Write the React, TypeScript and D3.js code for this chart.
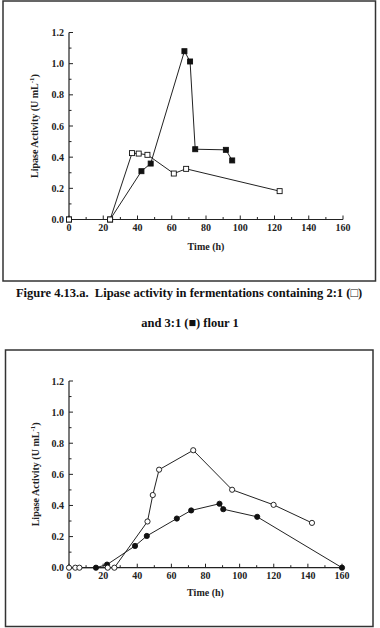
import React, { useEffect, useRef } from 'react';
import * as d3 from 'd3';

// Fermentation time (h) and lipase activity (U/mL) for each run
const flour2to1Time = [0, 24, 36.8, 40.7, 45.8, 61.2, 68.4, 123];
const flour2to1Act = [0, 0, 0.426, 0.423, 0.415, 0.295, 0.325, 0.182];

const flour3to1Time = [0, 24, 42.3, 47.7, 67.4, 70.7, 73.7, 91.6, 95.3];
const flour3to1Act = [0, 0, 0.31, 0.359, 1.08, 1.014, 0.451, 0.447, 0.379];

const openCircleTime = [0, 3.7, 6.1, 22.7, 26.6, 46, 49.1, 52.8, 72.8, 95.6, 119.9, 142.4];
const openCircleAct = [0, 0, 0, 0, 0, 0.297, 0.467, 0.63, 0.755, 0.501, 0.404, 0.288];

const filledCircleTime = [15.8, 22.3, 38.7, 45.6, 63.2, 71.6, 88.2, 90.4, 110.3, 160];
const filledCircleAct = [0, 0.02, 0.14, 0.204, 0.316, 0.368, 0.411, 0.376, 0.327, 0];

const xTicks = [0, 20, 40, 60, 80, 100, 120, 140, 160];
const yTicks = [0, 0.2, 0.4, 0.6, 0.8, 1.0, 1.2];

const FONT = '"Liberation Serif", "Times New Roman", serif';

type Series = { time: number[]; act: number[]; marker: 'square' | 'circle'; filled: boolean };

const toPoints = (s: Series) => s.time.map((t, i) => [t, s.act[i]] as [number, number]);

const drawPanel = (
    svg: d3.Selection<SVGSVGElement, unknown, null, undefined>,
    x0: number, x1: number, yBottom: number, yTop: number,
    series: Series[], yLabelX: number, xLabelY: number,
) => {
    const x = d3.scaleLinear().domain([0, 160]).range([x0, x1]);
    const y = d3.scaleLinear().domain([0, 1.2]).range([yBottom, yTop]);
    const g = svg.append('g');

    // x axis with inward ticks
    g.append('line').attr('x1', x0).attr('x2', x1).attr('y1', yBottom).attr('y2', yBottom)
        .attr('stroke', '#222').attr('stroke-width', 1.2);
    d3.range(0, 161, 10).forEach(v => {
        const major = v % 20 === 0;
        g.append('line').attr('x1', x(v)).attr('x2', x(v))
            .attr('y1', yBottom).attr('y2', yBottom - (major ? 4 : 2.5))
            .attr('stroke', '#222').attr('stroke-width', 1);
    });
    g.selectAll('.xt').data(xTicks).enter().append('text')
        .attr('x', d => x(d)).attr('y', yBottom + 11)
        .attr('text-anchor', 'middle').attr('font-family', FONT).attr('font-weight', 'bold')
        .attr('font-size', 10).attr('fill', '#222').text(d => d);

    // y axis with inward ticks
    g.append('line').attr('x1', x0).attr('x2', x0).attr('y1', yBottom).attr('y2', yTop)
        .attr('stroke', '#222').attr('stroke-width', 1.2);
    d3.range(0, 13).forEach(i => {
        const v = i / 10;
        const major = i % 2 === 0;
        g.append('line').attr('x1', x0).attr('x2', x0 + (major ? 4 : 2.5))
            .attr('y1', y(v)).attr('y2', y(v))
            .attr('stroke', '#222').attr('stroke-width', 1);
    });
    g.selectAll('.yt').data(yTicks).enter().append('text')
        .attr('x', x0 - 5).attr('y', d => y(d) + 3.5)
        .attr('text-anchor', 'end').attr('font-family', FONT).attr('font-weight', 'bold')
        .attr('font-size', 10).attr('fill', '#222').text(d => d.toFixed(1));

    // axis titles
    g.append('text').attr('x', (x0 + x1) / 2).attr('y', xLabelY)
        .attr('text-anchor', 'middle').attr('font-family', FONT).attr('font-weight', 'bold')
        .attr('font-size', 10).attr('fill', '#222').text('Time (h)');
    const yl = g.append('text')
        .attr('transform', `translate(${yLabelX},${(yBottom + yTop) / 2}) rotate(-90)`)
        .attr('text-anchor', 'middle').attr('font-family', FONT).attr('font-weight', 'bold')
        .attr('font-size', 10).attr('fill', '#222');
    yl.append('tspan').text('Lipase Activity (U mL');
    yl.append('tspan').attr('dy', -4).attr('font-size', 7).text('-1');
    yl.append('tspan').attr('dy', 4).text(')');

    const line = d3.line<[number, number]>().x(d => x(d[0])).y(d => y(d[1]));
    series.forEach(s => {
        g.append('path').datum(toPoints(s)).attr('d', line)
            .attr('fill', 'none').attr('stroke', '#222').attr('stroke-width', 1);
    });
    series.forEach(s => {
        const pts = toPoints(s);
        if (s.marker === 'square') {
            g.selectAll(null).data(pts).enter().append('rect')
                .attr('x', d => x(d[0]) - 2.5).attr('y', d => y(d[1]) - 2.5)
                .attr('width', 5).attr('height', 5)
                .attr('fill', s.filled ? '#111' : '#fff').attr('stroke', '#111').attr('stroke-width', 0.9);
        } else {
            g.selectAll(null).data(pts).enter().append('circle')
                .attr('cx', d => x(d[0])).attr('cy', d => y(d[1])).attr('r', 2.6)
                .attr('fill', s.filled ? '#111' : '#fff').attr('stroke', '#111').attr('stroke-width', 0.9);
        }
    });
};

export default function App() {
    const svgRef = useRef<SVGSVGElement | null>(null);

    useEffect(() => {
        const svg = d3.select(svgRef.current as SVGSVGElement);
        svg.selectAll('*').remove();

        svg.append('rect').attr('width', 380).attr('height', 628).attr('fill', '#fff');

        // frames round each figure
        svg.append('rect').attr('x', 3).attr('y', 1).attr('width', 372.5).attr('height', 280)
            .attr('fill', 'none').attr('stroke', '#333').attr('stroke-width', 1.5);
        svg.append('rect').attr('x', 5.5).attr('y', 350).attr('width', 367.5).attr('height', 276.5)
            .attr('fill', 'none').attr('stroke', '#333').attr('stroke-width', 1.5);

        drawPanel(svg, 69, 343, 219.5, 32.5, [
            { time: flour3to1Time, act: flour3to1Act, marker: 'square', filled: true },
            { time: flour2to1Time, act: flour2to1Act, marker: 'square', filled: false },
        ], 38, 250);

        drawPanel(svg, 69, 342, 567.7, 381, [
            { time: filledCircleTime, act: filledCircleAct, marker: 'circle', filled: true },
            { time: openCircleTime, act: openCircleAct, marker: 'circle', filled: false },
        ], 39, 596);

        // caption under the first figure
        svg.append('text').attr('x', 189).attr('y', 297).attr('text-anchor', 'middle')
            .attr('font-family', FONT).attr('font-weight', 'bold').attr('font-size', 12.5)
            .attr('fill', '#111').text('Figure 4.13.a.\u00a0\u00a0Lipase activity in fermentations containing 2:1 (\u25a1)');
        svg.append('text').attr('x', 190).attr('y', 327).attr('text-anchor', 'middle')
            .attr('font-family', FONT).attr('font-weight', 'bold').attr('font-size', 12.5)
            .attr('fill', '#111').text('and 3:1 (\u25a0) flour 1');
    }, []);

    return (
        <svg ref={svgRef} width={380} height={628}
            style={{ position: 'absolute', left: 0, top: 0, display: 'block' }} />
    );
}
